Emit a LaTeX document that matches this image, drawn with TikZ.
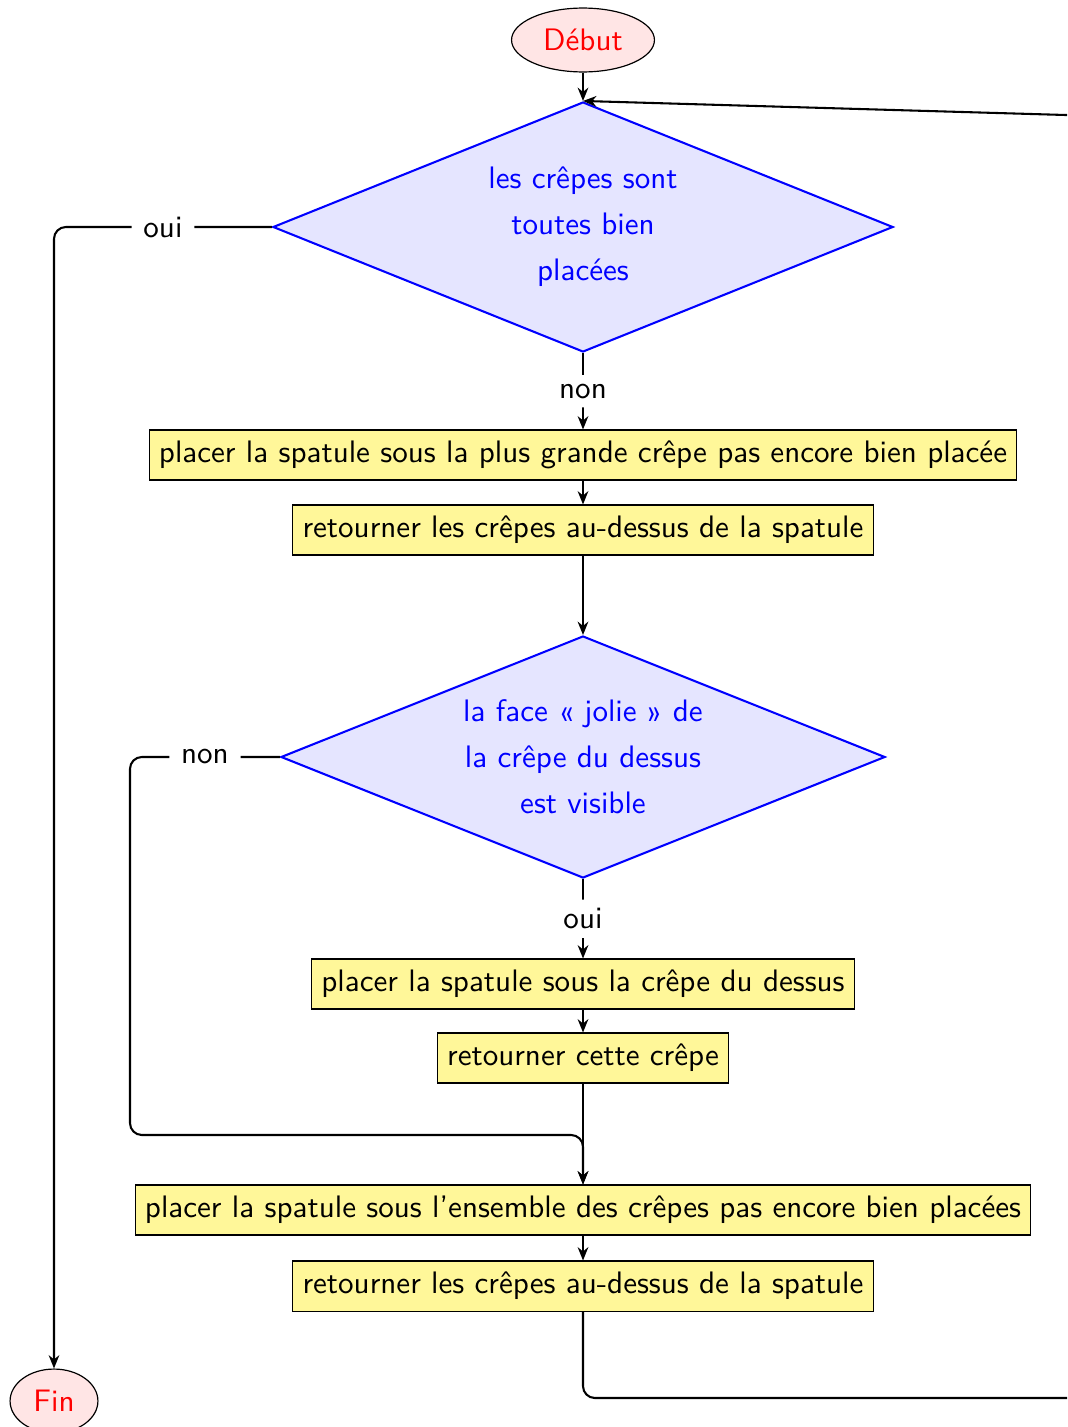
\documentclass[tikz,border=0pt]{standalone}
\usetikzlibrary{shapes.geometric,arrows.meta,calc}
\definecolor{boxyellow}{RGB}{255,247,153}
\begin{document}
\begin{tikzpicture}[x=0.338pt,y=-0.338pt, font=\sffamily\fontsize{10.5}{12.6}\selectfont,
  >={Stealth[length=4.5pt,width=3.6pt]},
  start/.style={ellipse, draw, thin, fill=red!10, text=red, minimum width=48.3pt, minimum height=21.6pt, inner sep=0pt},
  test/.style={diamond, draw=blue, line width=0.7pt, fill=blue!10, text=blue, align=center, inner sep=0pt},
  action/.style={rectangle, draw, line width=0.35pt, fill=boxyellow, minimum height=16.9pt},
  conn/.style={->, line width=0.7pt, rounded corners=4pt},
  lbl/.style={fill=white, inner xsep=4pt, inner ysep=3pt}]
\clip (0,0) rectangle (1067,1427);
\useasboundingbox (0,0) rectangle (1067,1427);

\node[start] (debut) at (583,40) {Début};
\node[test, aspect=2.48, minimum width=209.6pt, minimum height=84.5pt] (d1) at (583,227)
  {les crêpes sont\\[2.9pt] toutes bien\\[2.9pt] placées};
\node[action] (b1) at (583,455) {placer la spatule sous la plus grande crêpe pas encore bien placée};
\node[action] (b2) at (583,530) {retourner les crêpes au-dessus de la spatule};
\node[test, aspect=2.5, minimum width=204.2pt, minimum height=81.8pt] (d2) at (583,757)
  {la face « jolie » de\\[2.9pt] la crêpe du dessus\\[2.9pt] est visible};
\node[action] (b3) at (583,984) {placer la spatule sous la crêpe du dessus};
\node[action] (b4) at (583,1058) {retourner cette crêpe};
\node[action] (b5) at (583,1210) {placer la spatule sous l'ensemble des crêpes pas encore bien placées};
\node[action] (b6) at (583,1286) {retourner les crêpes au-dessus de la spatule};
\node[start, minimum width=29.7pt] (fin) at (54,1401) {Fin};

\coordinate (lnon) at (130,757);
\coordinate (join) at (583,1135);
\coordinate (rbot) at (1100,1398);
\coordinate (rtop) at (1100,116);

\draw[conn] (debut) -- (d1.north);
\draw[conn] (d1.south) -- node[lbl] {non} (b1.north);
\draw[conn] (d1.west) -- node[lbl] {oui} (d1.west -| fin.north) -- (fin.north);
\draw[conn] (b1) -- (b2);
\draw[conn] (b2) -- (d2.north);
\draw[conn] (d2.south) -- node[lbl] {oui} (b3.north);
\draw[conn] (b3) -- (b4);
\draw[conn] (b4) -- (b5);
\draw[conn] (d2.west) -- node[lbl] {non} (lnon) |- (join) -- (b5.north);
\draw[conn] (b5) -- (b6);
\draw[conn] (b6.south) |- (rbot) -- (rtop) -- (d1.north);
\end{tikzpicture}
\end{document}
